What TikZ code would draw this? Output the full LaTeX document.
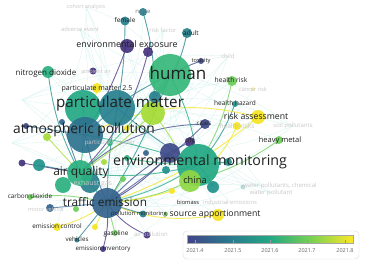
\documentclass[tikz,border=0pt]{standalone}
\usepackage{fontspec}
\setmainfont{Open Sans}
\definecolor{cP}{HTML}{46337E}
\definecolor{cPB}{HTML}{3E4A89}
\definecolor{cB}{HTML}{33638D}
\definecolor{cBT}{HTML}{2C728E}
\definecolor{cT}{HTML}{27808E}
\definecolor{cT2}{HTML}{21918C}
\definecolor{cTG}{HTML}{22A884}
\definecolor{cG}{HTML}{35B779}
\definecolor{cG2}{HTML}{2AB07F}
\definecolor{cLG}{HTML}{6CCD5A}
\definecolor{cYG}{HTML}{A5DB36}
\definecolor{cYG2}{HTML}{8FD744}
\definecolor{cY}{HTML}{F5E41F}
\definecolor{haze}{HTML}{CFF0EC}
\pgfdeclarehorizontalshading{viridis}{100bp}{rgb(0bp)=(0.255,0.267,0.529); rgb(25bp)=(0.255,0.267,0.529); rgb(37.5bp)=(0.165,0.471,0.557); rgb(50bp)=(0.133,0.659,0.518); rgb(62.5bp)=(0.478,0.820,0.318); rgb(75bp)=(0.992,0.906,0.145); rgb(100bp)=(0.992,0.906,0.145)}
\begin{document}
\begin{tikzpicture}[x=1pt,y=-1pt,
  bub/.style={circle,inner sep=0pt,minimum size=#1,draw=none,fill opacity=0.92},
  lbl/.style={font=\fontsize{#1}{#1}\selectfont,text=black!88,inner sep=0pt},
  flbl/.style={font=\fontsize{#1}{#1}\selectfont,text=black!22,inner sep=0pt},
  edg/.style={line width=0.9pt,opacity=0.75},
  fnt/.style={line width=0.35pt,draw=haze,opacity=0.8}]
\useasboundingbox (0,0) rectangle (369,262);
% coordinates
\coordinate (human) at (170,75);
\coordinate (pmG) at (83,108);
\coordinate (pmT) at (117,108);
\coordinate (pmL) at (153,113);
\coordinate (pmS) at (155,97);
\coordinate (atm) at (85,135);
\coordinate (ee) at (127,46);
\coordinate (ee2) at (148,52);
\coordinate (nd) at (48,72);
\coordinate (female) at (125,21);
\coordinate (noise) at (143,12);
\coordinate (adult) at (187,33);
\coordinate (amb) at (93,71);
\coordinate (pm25) at (97,88);
\coordinate (tox) at (201,61);
\coordinate (hr) at (232,81);
\coordinate (cancer) at (253,89);
\coordinate (haz) at (235,104);
\coordinate (ra) at (258,117);
\coordinate (hrs) at (237,126);
\coordinate (cities) at (205,124);
\coordinate (city) at (190,142);
\coordinate (heavy) at (279,140);
\coordinate (em) at (198,165);
\coordinate (pp) at (170,153);
\coordinate (china) at (190,181);
\coordinate (chinaT) at (213,187);
\coordinate (emT) at (228,162);
\coordinate (aq) at (80,173);
\coordinate (aqT) at (39,165);
\coordinate (aqP) at (22,163);
\coordinate (exT1) at (63,185);
\coordinate (exT2) at (90,183);
\coordinate (te) at (107,203);
\coordinate (co2) at (30,197);
\coordinate (mv) at (50,208);
\coordinate (mvg) at (76,209);
\coordinate (ec) at (57,227);
\coordinate (ec2) at (95,227);
\coordinate (veh) at (77,240);
\coordinate (ei) at (103,249);
\coordinate (gas) at (115,233);
\coordinate (bp) at (147,235);
\coordinate (pmon) at (143,214);
\coordinate (pmg) at (166,214);
\coordinate (sa) at (218,215);
\coordinate (bio) at (172,191);
\coordinate (water) at (243,187);
\coordinate (s1) at (110,143);
\coordinate (s2) at (104,162);
\coordinate (s3) at (127,158);
\coordinate (s4) at (146,153);
\coordinate (s5) at (166,170);
\coordinate (s6) at (127,128);
\coordinate (s7) at (62,122);
\coordinate (s8) at (26,126);
\coordinate (s9) at (47,137);
\coordinate (s10) at (123,179);
\coordinate (cohort) at (86,7);
\coordinate (adverse) at (80,29);
\coordinate (riskf) at (163,30);
\coordinate (child) at (228,56);
\coordinate (soil) at (293,126);
\coordinate (wpc) at (262,186);
\coordinate (wp) at (271,193);
\coordinate (ind) at (230,202);
\coordinate (sulf) at (22,100);
\coordinate (nitr) at (12,143);
% faint background mesh
\foreach \a/\b/\c in {cohort/human/20,cohort/pmT/-15,cohort/atm/25,cohort/aq/30,adverse/pmG/15,adverse/te/30,adverse/em/-25,adverse/human/-10,riskf/pmT/20,riskf/em/-15,riskf/aq/25,child/pmT/25,child/te/20,child/atm/-20,child/aq/15,soil/pmT/-20,soil/te/15,soil/atm/20,soil/human/10,wpc/te/-10,wpc/pmT/20,wpc/aq/-15,wp/atm/-20,wp/human/25,ind/pmG/-15,ind/aq/20,sulf/em/-25,sulf/te/20,sulf/human/-20,nitr/em/-20,nitr/human/-25,nitr/te/15,noise/atm/25,female/em/-20,amb/em/-15,pm25/ra/-10,nd/em/-20,nd/ra/-25,aqT/human/-15,aqP/ra/-20,s8/em/-20,s8/hr/-25,s9/human/-20,co2/em/-20,mv/human/-15,ec/em/-25,ec/pmT/15,veh/human/20,ei/em/-25,gas/human/15,bp/pmT/20,hr/te/20,hr/atm/-10,haz/aq/25,cancer/te/20,cancer/pmG/-15,tox/te/15,adult/te/-20,adult/aq/20,ee/em/-20,ee2/te/25,city/aq/15,cities/pmG/20,heavy/te/20,heavy/pmT/-10,hrs/aq/-20,ra/te/15,sa/pmT/-20,sa/aq/-15,water/te/15,water/pmT/-20,chinaT/atm/-20,emT/aq/15,bio/pmT/20,pmon/human/-15,pmg/pmT/20,child/sulf/-15,cohort/nitr/30,soil/sulf/-30,wpc/sulf/-35,riskf/nitr/20,adverse/wp/-30}
  {\draw[fnt] (\a) to[bend left=\c] (\b);}
% main coloured links
\draw[edg,cT] (noise) to[bend left=10] (pmL);
\draw[edg,cT] (female) to[bend left=5] (pmT);
\draw[edg,cT] (adult) to[bend left=15] (pmS);
\draw[edg,cP] (ee) to[bend left=5] (atm);
\draw[edg,cP] (ee2) to[bend left=15] (aq);
\draw[edg,cPB] (tox) to[bend right=5] (human);
\draw[edg,cLG] (hr) to[bend left=10] (em);
\draw[edg,cT2] (haz) to[bend left=10] (em);
\draw[edg,cY] (ra) to[bend right=20] (atm);
\draw[edg,cY] (hrs) to[bend left=15] (china);
\draw[edg,cPB] (cities) to[bend right=20] (aq);
\draw[edg,cPB] (city) to[bend right=10] (te);
\draw[edg,cLG] (heavy) to[bend left=10] (china);
\draw[edg,cY] (sa) to[bend left=15] (te);
\draw[edg,cT2] (nd) to[bend right=10] (aq);
\draw[edg,cT2] (chinaT) to[bend right=10] (em);
\draw[edg,cG] (human) to[bend left=5] (aq);
\draw[edg,cT] (human) to[bend right=10] (atm);
\draw[edg,cTG] (human) to[bend left=10] (em);
\draw[edg,cP] (pp) to[bend left=10] (te);
\draw[edg,cY] (pm25) to[bend left=5] (atm);
\draw[edg,cLG] (te) to[bend right=10] (co2);
\draw[edg,cB] (te) to (mv);
\draw[edg,cY] (te) to[bend left=10] (ec);
\draw[edg,cT] (te) to (veh);
\draw[edg,cP] (te) to[bend left=10] (ei);
\draw[edg,cLG] (te) to (gas);
\draw[edg,cP] (te) to[bend right=15] (bp);
\draw[edg,cT] (te) to (pmon);
\draw[edg,cY] (te) to (ec2);
\draw[edg,cLG] (te) to[bend right=10] (china);
\draw[edg,cTG] (te) to[bend right=10] (em);
\draw[edg,cT] (te) to[bend left=5] (pmT);
\draw[edg,cB] (te) to[bend left=5] (atm);
\draw[edg,cG2] (te) to (aq);
\draw[edg,cT2] (te) to[bend right=5] (human);
\draw[edg,cY] (te) to[bend right=10] (ra);
\draw[edg,cPB] (te) to[bend right=5] (cities);
\draw[edg,cLG] (te) to (s10);
\draw[edg,cY] (te) to[bend right=5] (bio);
\draw[edg,cG2] (aq) to[bend right=5] (pmG);
\draw[edg,cB] (aq) to (s7);
\draw[edg,cYG] (aq) to (s9);
\draw[edg,cTG] (aq) to[bend right=10] (em);
\draw[edg,cT2] (aq) to (aqT);
\draw[edg,cP] (aq) to (aqP);
\draw[edg,cYG] (aq) to[bend right=5] (pmL);
\draw[edg,cTG] (atm) to[bend left=5] (em);
\draw[edg,cB] (atm) to (s8);
\draw[edg,cYG] (pmL) to[bend left=10] (china);
\draw[edg,cT] (pmT) to[bend right=5] (em);
\draw[edg,cT2] (em) to (emT);
\draw[edg,cG] (em) to[bend left=5] (s3);
% circles
\foreach \n/\d/\c in {noise/8/cT,female/9/cT,adult/10/cT,ee/14/cP,ee2/10/cP,nd/12/cG2,amb/7/cP,tox/6/cPB,hr/10/cLG,haz/6/cT2,ra/14/cY,hrs/8/cY,cities/10/cPB,city/10/cP,heavy/8/cLG,emT/8/cT2,chinaT/12/cT2,aqT/12/cT2,aqP/7/cP,co2/6/cLG,mv/8/cB,mvg/6/cLG,ec/8/cY,ec2/6/cY,veh/5/cT,ei/6/cP,gas/6/cLG,bp/7/cP,pmon/7/cT,pmg/4/cLG,sa/12/cY,bio/6/cY,s1/6/cG2,s2/6/cYG,s3/6/cG2,s4/6/cB,s5/8/cT2,s6/6/cY,s7/6/cB,s8/6/cPB,s9/8/cYG,s10/6/cLG,exT1/16/cG2,exT2/20/cT,pm25/10/cY}
  {\node[bub=\d,fill=\c] (\n-c) at (\n) {};}
\node[bub=4,fill=cY,opacity=0.4] (cancer-c) at (cancer) {};
\node[bub=5,fill=cT2,opacity=0.3] (water-c) at (water) {};
\node[bub=36,fill=cTG] (pmG-c) at (pmG) {};
\node[bub=36,fill=cBT] (atm-c) at (atm) {};
\node[bub=36,fill=cT] (pmT-c) at (pmT) {};
\node[bub=24,fill=cYG] (pmL-c) at (pmL) {};
\node[bub=12,fill=cT] (pmS-c) at (pmS) {};
\node[bub=42,fill=cG] (human-c) at (human) {};
\node[bub=26,fill=cG2] (aq-c) at (aq) {};
\node[bub=30,fill=cB] (te-c) at (te) {};
\node[bub=20,fill=cPB] (pp-c) at (pp) {};
\node[bub=42,fill=cTG] (em-c) at (em) {};
\node[bub=22,fill=cYG2] (china-c) at (china) {};
% faint labels
\node[flbl=5.5] (cohort-l) at (cohort) {cohort analysis};
\node[flbl=5.8] (adverse-l) at (adverse) {adverse event};
\node[flbl=5.8] (riskf-l) at (riskf) {risk factor};
\node[flbl=6] (child-l) at (child) {child};
\node[flbl=5.5] (cancer-l) at (cancer) {cancer risk};
\node[flbl=6.5] (hrs-l) at (hrs) {health risks};
\node[flbl=6] (soil-l) at (soil) {soil pollutants};
\node[flbl=6] (wpc-l) at (280,186) {water pollutants, chemical};
\node[flbl=6] (wp-l) at (wp) {water pollutant};
\node[flbl=5.8] (ind-l) at (ind) {industrial emissions};
\node[flbl=7] (ex-l) at (93,184) {exhaust gas};
\node[flbl=5.6] (mv-l) at (46,209) {motor vehicle};
\node[flbl=5.6] (amb-l) at (96,71) {ambient air};
\node[flbl=6] (bp-l) at (151,235) {air pollution};
\node[flbl=6] (pmf-l) at (110,143) {particulate matter};
% labels
\node[lbl=17] (human-l) at (178,73) {human};
\node[lbl=15.2] (pm-l) at (120,104) {particulate matter};
\node[lbl=13.8] (atm-l) at (84,130) {atmospheric pollution};
\node[lbl=14.2] (em-l) at (200,162) {environmental monitoring};
\node[lbl=12] (aq-l) at (81,172) {air quality};
\node[lbl=11.8] (te-l) at (105,202) {traffic emission};
\node[lbl=9.3] (china-l) at (195,180) {china};
\node[lbl=8] (nd-l) at (46,73) {nitrogen dioxide};
\node[lbl=8.9] (ee-l) at (127,45) {environmental exposure};
\node[lbl=8.7] (ra-l) at (256,116) {risk assessment};
\node[lbl=8.7] (sa-l) at (215,214) {source apportionment};
\node[lbl=7.5] (heavy-l) at (280,141) {heavy metal};
\node[lbl=6.7] (hr-l) at (231,80) {health risk};
\node[lbl=6.5] (haz-l) at (235,103) {health hazard};
\node[lbl=6.2] (cities-l) at (204,123.5) {cities};
\node[lbl=6] (city-l) at (190,141) {city};
\node[lbl=5.7] (tox-l) at (201,61) {toxicity};
\node[lbl=6.5] (female-l) at (125,20.5) {female};
\node[lbl=6,text=black!55] (noise-l) at (143,11.5) {noise};
\node[lbl=6.5] (adult-l) at (191,33) {adult};
\node[lbl=7] (pm25-l) at (97,88.5) {particulate matter 2.5};
\node[lbl=6.4] (co2-l) at (30,196.5) {carbon dioxide};
\node[lbl=6.4] (ec-l) at (57,226.5) {emission control};
\node[lbl=6.2] (veh-l) at (77,239.5) {vehicles};
\node[lbl=6.2] (ei-l) at (103,248.5) {emission inventory};
\node[lbl=6.4] (gas-l) at (116,233.5) {gasoline};
\node[lbl=5.8] (pmon-l) at (139,214) {pollution monitoring};
\node[lbl=5.7] (bio-l) at (188,202) {biomass};
% colour bar
\draw[draw=black!15,fill=white,rounded corners=4pt] (183,231) rectangle (359,259);
\shade[shading=viridis] (187,235) rectangle (353,243);
\draw[black!35,line width=0.3pt] (187,235) rectangle (353,243);
\foreach \x/\t in {195/2021.4,233/2021.5,270/2021.6,307/2021.7,345/2021.8}{
  \draw[black!40,line width=0.3pt] (\x,240) -- (\x,243);
  \node[lbl=5.5,text=black!60] (t\x) at (\x,251) {\t};}
\end{tikzpicture}
\end{document}
